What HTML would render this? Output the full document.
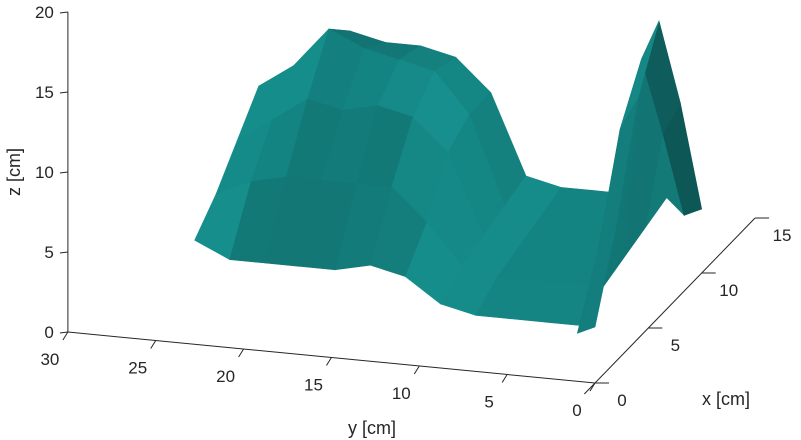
<!DOCTYPE html>
<html><head><meta charset="utf-8"><style>
html,body{margin:0;padding:0;background:#fff;}
svg{display:block;font-family:"Liberation Sans",Arial,sans-serif;}
</style></head><body>
<svg id="chart" width="801" height="440" viewBox="0 0 801 440">
<g id="surf"></g>
<g id="axes"></g>
</svg>
<script>
// data grid: rows = x values, columns = y values, z heights (cm); null = missing
const xVals = [0,2,4,6,8,10,12];
const yVals = [0,1,2,4,6,8,10,12,14,16,18,20,22,24,26];
const zRows = [
 [3.5,3,null,null,null,null,null,null,null,null,null,null,null,null,null],
 [8.5,7,2,2,2,2,2.5,4,4.5,4,4,4,4,5,null],
 [15,13,3,3,3,3,3.5,6,8,8,8,8,7.5,6.5,null],
 [18.5,16,3.5,3.5,3.5,3.5,4,9,11,11.5,11,11.5,10,8.5,null],
 [12,10,4,4,4,4,4.5,10,12.5,13,13.5,14.5,12,10.5,null],
 [4,3.5,4.5,4.5,4.5,4.5,5,10,12,12.5,12.5,13,11,null,null],
 [null,null,null,null,null,null,null,null,null,null,null,null,null,null,null]
];
const zTicks = [0,5,10,15,20];
const yTicks = [0,5,10,15,20,25,30];
const xTicks = [0,5,10,15];

function P(x,y,z){
  return [595 + x*10.67 + y*(-17.57), 383 + x*(-11) + y*(-1.7) + z*(-16)];
}
const NS="http://www.w3.org/2000/svg";
const surf=document.getElementById('surf'), axes=document.getElementById('axes');
function mk(tag,attrs,parent){const e=document.createElementNS(NS,tag);for(const k in attrs)e.setAttribute(k,attrs[k]);parent.appendChild(e);return e;}

for(let i=xVals.length-2;i>=0;i--){
  for(let j=yVals.length-2;j>=0;j--){
    const cand=[[i,j],[i,j+1],[i+1,j+1],[i+1,j]];
    const pts=cand.map(c=>[xVals[c[0]],yVals[c[1]],zRows[c[0]][c[1]]]).filter(p=>p[2]!=null);
    if(pts.length<3)continue;
    const a=pts[0],b=pts[1],c=pts[2];
    const ax=b[0]-a[0],ay=b[1]-a[1],az=b[2]-a[2];
    const bx=c[0]-a[0],by=c[1]-a[1],bz=c[2]-a[2];
    let nx=ay*bz-az*by,ny=az*bx-ax*bz,nz=ax*by-ay*bx;
    const L=Math.hypot(nx,ny,nz)||1;nx/=L;ny/=L;nz/=L;if(nz<0){nx=-nx;ny=-ny;nz=-nz;}
    const lit=Math.max(0,Math.min(1,-0.3*nx+0.5*Math.abs(ny)+0.7*nz));
    const k=0.5+0.55*lit;
    const col=`rgb(${Math.round(22*k)},${Math.round(145*k)},${Math.round(143*k)})`;
    const poly=pts.map(p=>P(p[0],p[1],p[2]).join(',')).join(' ');
    const el=mk('polygon',{points:poly,fill:col,stroke:col,'stroke-width':0.6},surf);
    
    
  }
}

const st={stroke:'#262626','stroke-width':1,fill:'none'};
let a0=P(0,30,0),a1=P(0,30,20);
let l=mk('line',Object.assign({x1:a0[0],y1:a0[1],x2:a1[0],y2:a1[1]},st),axes);

a1=P(0,0,0);
l=mk('line',Object.assign({x1:a0[0],y1:a0[1],x2:a1[0],y2:a1[1]},st),axes);

a0=P(-1,0,0);a1=P(15,0,0);
l=mk('line',Object.assign({x1:a0[0],y1:a0[1],x2:a1[0],y2:a1[1]},st),axes);


zTicks.forEach(t=>{const p=P(0,30,t);
  mk('line',Object.assign({x1:p[0]-8,y1:p[1]+1,x2:p[0],y2:p[1]},st),axes);
  const tx=mk('text',{x:p[0]-14,y:p[1]+6,'font-size':17,fill:'#262626','text-anchor':'end'},axes);tx.textContent=t;
  });
yTicks.forEach(t=>{const p=P(0,t,0);
  mk('line',Object.assign({x1:p[0],y1:p[1],x2:p[0]-5,y2:p[1]+8},st),axes);
  const tx=mk('text',{x:p[0]-18,y:p[1]+33,'font-size':17,fill:'#262626','text-anchor':'middle'},axes);tx.textContent=t;
  });
xTicks.forEach(t=>{const p=P(t,0,0);
  mk('line',Object.assign({x1:p[0],y1:p[1],x2:p[0]+14,y2:p[1]},st),axes);
  const tx=mk('text',{x:p[0]+27,y:p[1]+23,'font-size':17,fill:'#262626','text-anchor':'middle'},axes);tx.textContent=t;
  });

let tt=mk('text',{x:0,y:0,'font-size':18,fill:'#262626','text-anchor':'middle',transform:'translate(20,172) rotate(-90)'},axes);tt.textContent='z [cm]';

tt=mk('text',{x:372,y:434,'font-size':18,fill:'#262626','text-anchor':'middle'},axes);tt.textContent='y [cm]';

tt=mk('text',{x:726,y:405,'font-size':18,fill:'#262626','text-anchor':'middle'},axes);tt.textContent='x [cm]';

</script>
</body></html>
